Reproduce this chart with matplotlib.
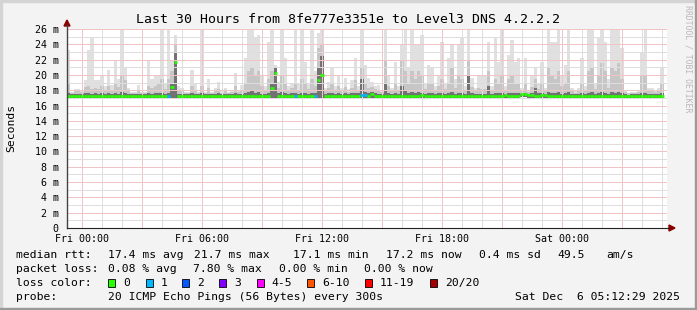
import matplotlib
matplotlib.use("Agg")
import matplotlib.pyplot as plt
from matplotlib.patches import Polygon, Rectangle
from matplotlib.lines import Line2D
import numpy as np

# ---- data: 10 minute slots, starting Thu 23:15 (hours relative to Fri 00:00)
slot_start = -0.75
slot_hours = 1 / 6

# top of the smoke (max ping per slot), ms
ping_max = [
    23.3, 17.8, 18.2, 18.2, 18.0, 19.3, 23.3, 24.8, 19.3, 19.3, 20.0, 18.5, 20.6, 18.7, 22.0,
    19.5, 26.0, 21.0, 18.3, 17.8, 17.8, 18.7, 17.8, 17.8, 22.0, 19.5, 19.8, 20.0, 26.0, 19.0,
    26.0, 22.0, 25.2, 18.5, 18.3, 17.8, 17.8, 20.6, 18.8, 17.8, 26.0, 17.8, 19.5, 17.8, 18.3,
    19.1, 17.9, 18.3, 17.8, 18.0, 20.2, 18.0, 18.7, 22.2, 26.0, 26.0, 24.8, 25.2, 20.0, 18.5,
    24.3, 26.0, 21.3, 19.1, 26.0, 22.2, 18.5, 19.0, 26.0, 18.8, 26.0, 21.7, 19.0, 26.0, 20.5,
    25.5, 26.0, 18.3, 19.1, 20.9, 18.5, 20.0, 18.3, 19.6, 18.2, 19.3, 22.2, 18.5, 26.0, 21.3,
    19.6, 19.1, 18.5, 18.7, 18.0, 26.0, 20.0, 18.3, 21.7, 18.5, 23.9, 26.0, 20.9, 26.0, 23.9,
    23.9, 25.2, 19.0, 21.3, 20.9, 18.5, 20.0, 24.3, 19.0, 22.2, 23.9, 19.5, 23.9, 24.8, 18.5,
    26.0, 19.6, 18.3, 20.0, 19.8, 19.8, 24.3, 18.5, 24.8, 21.7, 26.0, 18.5, 22.6, 24.5, 21.7,
    22.2, 18.3, 22.2, 18.0, 20.0, 21.1, 19.0, 21.7, 18.3, 26.0, 24.3, 24.3, 26.0, 20.0, 21.3,
    26.0, 18.3, 17.9, 18.3, 22.2, 18.5, 26.0, 26.0, 19.0, 24.8, 26.0, 24.3, 19.5, 26.0, 26.0,
    26.0, 23.5, 18.0, 17.6, 17.8, 17.8, 18.0, 23.0, 26.0, 18.3, 18.3, 17.9, 18.3, 20.9,
]

# upper edge of the medium smoke band
ping_mid = [
    19.0, 17.7, 17.9, 17.9, 17.8, 18.4, 18.6, 18.2, 18.3, 18.2, 18.5, 17.9, 18.6, 18.0, 19.0,
    18.4, 20.0, 19.4, 17.9, 17.7, 17.7, 18.0, 17.7, 17.7, 18.5, 18.3, 18.6, 19.0, 19.5, 18.2,
    19.5, 20.5, 24.0, 17.9, 17.9, 17.7, 17.7, 18.5, 18.0, 17.7, 18.5, 17.7, 18.3, 17.7, 17.9,
    18.2, 17.7, 17.9, 17.7, 17.8, 18.6, 17.8, 18.0, 19.0, 20.5, 21.0, 20.0, 20.5, 18.6, 17.9,
    19.5, 20.5, 20.8, 18.3, 20.0, 19.0, 17.9, 18.3, 19.0, 18.0, 19.5, 18.8, 18.2, 19.5, 18.6,
    23.5, 24.0, 17.9, 18.3, 19.0, 17.9, 18.5, 17.9, 18.4, 17.8, 18.3, 19.3, 17.9, 21.0, 19.0,
    18.3, 18.4, 18.2, 18.0, 17.8, 22.0, 18.6, 17.9, 19.0, 17.9, 22.0, 20.5, 19.0, 20.5, 19.5,
    20.5, 20.0, 18.2, 19.0, 19.0, 17.9, 18.5, 19.5, 18.2, 19.0, 21.0, 18.3, 20.0, 19.5, 17.9,
    22.0, 18.4, 17.9, 18.3, 18.2, 18.2, 20.5, 17.9, 19.5, 19.0, 20.0, 17.9, 19.5, 20.0, 19.0,
    19.0, 17.9, 19.0, 17.8, 18.4, 19.5, 18.2, 18.8, 17.9, 21.0, 20.0, 19.5, 20.5, 18.5, 19.0,
    20.5, 17.9, 17.7, 17.9, 19.0, 17.9, 20.5, 21.0, 18.2, 20.0, 21.5, 20.5, 18.3, 21.0, 20.5,
    21.5, 19.5, 17.8, 17.6, 17.7, 17.7, 17.8, 20.0, 20.0, 17.9, 17.9, 17.8, 17.9, 19.0,
]

# upper edge of the dense (dark) smoke
ping_dark = [
    17.6, 17.5, 17.5, 17.5, 17.5, 17.6, 17.6, 17.5, 17.6, 17.5, 17.6, 17.5, 17.6, 17.5, 17.6,
    17.5, 17.8, 17.7, 17.5, 17.5, 17.5, 17.5, 17.5, 17.5, 17.6, 17.5, 17.6, 17.6, 17.7, 17.5,
    17.7, 19.0, 23.0, 17.5, 17.5, 17.5, 17.5, 17.6, 17.5, 17.5, 17.6, 17.5, 17.5, 17.5, 17.5,
    17.6, 17.5, 17.5, 17.5, 17.5, 17.6, 17.5, 17.5, 17.6, 17.8, 17.9, 17.7, 17.8, 17.5, 17.5,
    17.7, 18.8, 21.0, 17.6, 17.8, 17.6, 17.5, 17.6, 17.7, 17.5, 17.7, 17.6, 17.5, 17.7, 17.6,
    21.0, 22.5, 17.5, 17.6, 17.7, 17.5, 17.6, 17.5, 17.6, 17.5, 17.6, 17.7, 17.6, 19.5, 17.8,
    17.6, 17.8, 17.6, 17.5, 17.5, 19.0, 17.6, 17.5, 17.7, 17.5, 18.5, 17.9, 17.6, 17.8, 17.6,
    17.8, 17.7, 17.5, 17.6, 17.6, 17.5, 17.6, 17.7, 17.5, 17.6, 17.8, 17.5, 17.7, 17.7, 17.5,
    20.0, 17.6, 17.5, 17.5, 17.5, 17.5, 18.5, 17.5, 17.6, 17.6, 17.7, 17.5, 17.6, 17.7, 17.6,
    17.6, 17.5, 17.6, 17.5, 17.6, 18.3, 17.6, 17.6, 17.5, 17.8, 17.7, 17.6, 17.8, 17.5, 17.6,
    17.8, 17.5, 17.5, 17.5, 17.6, 17.5, 17.7, 17.8, 17.5, 17.7, 17.8, 17.7, 17.5, 17.8, 17.7,
    17.8, 17.6, 17.5, 17.4, 17.5, 17.5, 17.5, 17.6, 17.6, 17.5, 17.5, 17.5, 17.5, 17.6,
]

# lowest ping per slot
ping_min = [
    16.9, 16.9, 17.0, 16.9, 16.9, 17.0, 16.9, 16.9, 16.9, 17.0, 16.9, 16.9, 17.0, 16.9, 16.9,
    16.9, 17.0, 16.9, 16.9, 17.0, 16.9, 16.9, 16.9, 17.0, 16.9, 16.9, 17.0, 16.9, 16.9, 17.0,
    16.9, 17.0, 17.0, 16.9, 16.9, 17.0, 16.9, 16.9, 17.0, 16.9, 16.9, 16.9, 17.0, 16.9, 16.9,
    16.9, 17.0, 16.9, 16.9, 16.9, 17.0, 16.9, 16.9, 16.9, 17.0, 16.9, 17.0, 16.9, 16.9, 17.0,
    16.9, 17.0, 17.0, 16.9, 17.0, 16.9, 16.9, 16.9, 17.0, 16.9, 16.9, 17.0, 16.9, 16.9, 17.0,
    17.0, 17.0, 16.9, 17.0, 17.0, 16.9, 16.9, 17.0, 16.9, 17.0, 16.9, 16.9, 17.0, 17.0, 17.0,
    17.0, 17.0, 17.0, 16.9, 17.0, 16.9, 17.0, 17.0, 16.9, 17.0, 16.9, 17.0, 17.0, 16.9, 17.0,
    17.0, 17.0, 17.0, 16.9, 17.0, 17.0, 17.0, 16.9, 17.0, 16.9, 17.0, 17.0, 16.9, 17.0, 17.0,
    16.9, 17.0, 16.9, 17.0, 17.0, 16.9, 17.0, 17.0, 16.9, 17.0, 17.0, 17.0, 17.0, 17.0, 17.0,
    17.0, 17.1, 17.1, 17.0, 17.0, 17.0, 17.0, 17.0, 17.0, 17.0, 17.0, 16.9, 16.9, 17.0, 17.0,
    17.0, 16.9, 17.0, 16.9, 17.0, 17.0, 16.9, 16.9, 17.0, 16.9, 16.9, 17.0, 16.9, 17.0, 17.0,
    16.9, 17.0, 16.9, 17.0, 16.9, 16.9, 17.0, 16.9, 16.9, 16.9, 17.0, 16.9, 16.9, 16.9,
]

# median rtt per slot
median = [
    17.2, 17.2, 17.3, 17.2, 17.2, 17.3, 17.2, 17.2, 17.3, 17.2, 17.2, 17.2, 17.3, 17.2, 17.3,
    17.2, 17.3, 17.2, 17.2, 17.3, 17.2, 17.2, 17.2, 17.3, 17.2, 17.2, 17.3, 17.2, 17.3, 17.3,
    17.2, 18.4, 21.7, 17.2, 17.2, 17.3, 17.2, 17.2, 17.3, 17.2, 17.2, 17.2, 17.3, 17.2, 17.2,
    17.2, 17.3, 17.2, 17.2, 17.2, 17.3, 17.2, 17.2, 17.2, 17.3, 17.2, 17.3, 17.2, 17.2, 17.3,
    17.2, 18.3, 20.2, 17.2, 17.3, 17.2, 17.2, 17.2, 17.3, 17.2, 17.2, 17.3, 17.2, 17.2, 17.3,
    19.3, 20.0, 17.2, 17.3, 17.3, 17.2, 17.2, 17.3, 17.2, 17.3, 17.2, 17.2, 17.3, 17.4, 17.4,
    17.3, 17.5, 17.3, 17.2, 17.3, 17.2, 17.3, 17.3, 17.2, 17.3, 17.2, 17.3, 17.3, 17.2, 17.3,
    17.3, 17.4, 17.3, 17.2, 17.3, 17.3, 17.3, 17.2, 17.3, 17.2, 17.3, 17.3, 17.2, 17.3, 17.3,
    17.2, 17.3, 17.2, 17.3, 17.3, 17.2, 17.3, 17.3, 17.2, 17.3, 17.3, 17.4, 17.3, 17.3, 17.3,
    17.3, 17.5, 17.5, 17.4, 17.4, 17.3, 17.3, 17.4, 17.4, 17.3, 17.3, 17.2, 17.2, 17.3, 17.3,
    17.3, 17.2, 17.3, 17.2, 17.3, 17.3, 17.2, 17.2, 17.3, 17.2, 17.2, 17.3, 17.2, 17.3, 17.3,
    17.2, 17.3, 17.2, 17.3, 17.2, 17.2, 17.3, 17.2, 17.2, 17.2, 17.3, 17.2, 17.2, 17.2,
]

# slots that lost pings
loss_slots = [30, 68, 74, 88, 89]
loss_counts = [1, 1, 1, 1, 1]

loss_legend = ["0", "1", "2", "3", "4-5", "6-10", "11-19", "20/20"]
loss_colors = ["#26ff00", "#00b8ff", "#0059ff", "#7e00ff", "#ff00ff", "#ff5500", "#ff0000", "#a10000"]

x_ticks = [0, 6, 12, 18, 24]
x_labels = ["Fri 00:00", "Fri 06:00", "Fri 12:00", "Fri 18:00", "Sat 00:00"]
y_ticks = list(range(0, 27, 2))
y_labels = ["0"] + ["%d m" % v for v in y_ticks[1:]]

title = "Last 30 Hours from 8fe777e3351e to Level3 DNS 4.2.2.2"

# ---- figure
W, H = 697, 310
mono = "DejaVu Sans Mono"
fig = plt.figure(figsize=(W / 100, H / 100), dpi=100)
fig.patch.set_facecolor("#f3f3f3")

def fx(px):
    return px / W

def fy(py):
    return 1 - py / H

ax = fig.add_axes([fx(67), fy(228), 600 / W, 199 / H])
ax.set_facecolor("white")

n = len(median)
edges = slot_start + np.arange(n + 1) * slot_hours

def stepv(a):
    return np.append(a, a[-1])

ax.fill_between(edges, stepv(ping_min), stepv(ping_max), step="post", color="#e0e0e0", lw=0, zorder=1)
ax.fill_between(edges, stepv(ping_min), stepv(ping_mid), step="post", color="#c6c6c6", lw=0, zorder=1.1)
ax.fill_between(edges, stepv(ping_min), stepv(ping_dark), step="post", color="#727272", lw=0, zorder=1.2)

cols = [loss_colors[0]] * n
for s, c in zip(loss_slots, loss_counts):
    cols[s] = loss_colors[c]
ax.hlines(median, edges[:-1], edges[1:], colors=cols, lw=1.9, zorder=4)

ax.set_xlim(-0.75, 29.25)
ax.set_ylim(0, 26)

# grid: minor every hour / ms, major every 3 h / 2 ms, 1px dotted
for h in range(0, 30):
    major = h % 3 == 0
    ax.axvline(h, color="#f0c4c4" if major else "#dedede", lw=0.72,
               ls=(0, (1, 1)), antialiased=False, zorder=2)
for v in range(1, 27):
    major = v % 2 == 0
    ax.axhline(v, color="#f0c4c4" if major else "#dedede", lw=0.72,
               ls=(0, (1, 1)), antialiased=False, zorder=2)

for sp in ax.spines.values():
    sp.set_visible(False)
ax.set_xticks(x_ticks)
ax.set_xticklabels(x_labels, family=mono, fontsize=7.2)
ax.set_yticks(y_ticks)
ax.set_yticklabels(y_labels, family=mono, fontsize=7.2)
ax.tick_params(axis="x", length=0, pad=4)
ax.tick_params(axis="y", length=0, pad=6)

# axes lines with arrows
fig.add_artist(Line2D([fx(67), fx(67)], [fy(228), fy(25)], color="#444444", lw=1.0))
fig.add_artist(Line2D([fx(67), fx(669)], [fy(228), fy(228)], color="#222222", lw=0.8))
fig.add_artist(Polygon([[fx(64), fy(26)], [fx(70), fy(26)], [fx(67), fy(20)]],
                       closed=True, color="#8b0000", transform=fig.transFigure))
fig.add_artist(Polygon([[fx(669), fy(225)], [fx(669), fy(231)], [fx(675), fy(228)]],
                       closed=True, color="#8b0000", transform=fig.transFigure))

# frame
fig.add_artist(Rectangle((0, fy(2)), 1, 2 / H, color="#d4d4d4", transform=fig.transFigure))
fig.add_artist(Rectangle((0, 0), 2 / W, 1, color="#d4d4d4", transform=fig.transFigure))
fig.add_artist(Rectangle((0, 0), 1, 2 / H, color="#9a9a9a", transform=fig.transFigure))
fig.add_artist(Rectangle((fx(695), 0), 2 / W, 1, color="#9a9a9a", transform=fig.transFigure))

# texts
fig.text(fx(348.5), fy(19.5), title, ha="center", va="center", family=mono, fontsize=9.5)
fig.text(fx(11), fy(128), "Seconds", rotation=90, ha="center", va="center", family=mono, fontsize=8.2)
fig.text(fx(688), fy(5), "RRDTOOL / TOBI OETIKER", rotation=270, ha="center", va="top",
         family=mono, fontsize=5.9, color="#b8b8b8")

lf = dict(family=mono, fontsize=8.2, va="center")
rows = [255, 269, 283, 297]
fig.text(fx(15.6), fy(rows[0]), "median rtt:", **lf)
for x, s in [(107.6, "17.4 ms avg"), (194.2, "21.7 ms max"), (293.3, "17.1 ms min"),
             (385.8, "17.2 ms now"), (479, "0.4 ms sd"), (557.8, "49.5"), (606.7, "am/s")]:
    fig.text(fx(x), fy(rows[0]), s, **lf)
fig.text(fx(15.6), fy(rows[1]), "packet loss:", **lf)
for x, s in [(107.6, "0.08 % avg"), (193.3, "7.80 % max"), (279, "0.00 % min"), (364.4, "0.00 % now")]:
    fig.text(fx(x), fy(rows[1]), s, **lf)
fig.text(fx(15.6), fy(rows[2]), "loss color:", **lf)
box_x = [108.3, 145.7, 182.3, 219.3, 256.7, 307.3, 365, 430]
for bx, lab, col in zip(box_x, loss_legend, loss_colors):
    fig.add_artist(Rectangle((fx(bx), fy(rows[2] + 4)), 7 / W, 8 / H, facecolor=col,
                             edgecolor="black", lw=0.6, transform=fig.transFigure))
    fig.text(fx(bx + 15), fy(rows[2]), lab, **lf)
fig.text(fx(15.6), fy(rows[3]), "probe:", **lf)
fig.text(fx(107.6), fy(rows[3]), "20 ICMP Echo Pings (56 Bytes) every 300s", **lf)
fig.text(fx(680), fy(rows[3]), "Sat Dec  6 05:12:29 2025", ha="right", family=mono, fontsize=8.2, va="center")

fig.savefig("out.png", dpi=100, facecolor=fig.get_facecolor())
